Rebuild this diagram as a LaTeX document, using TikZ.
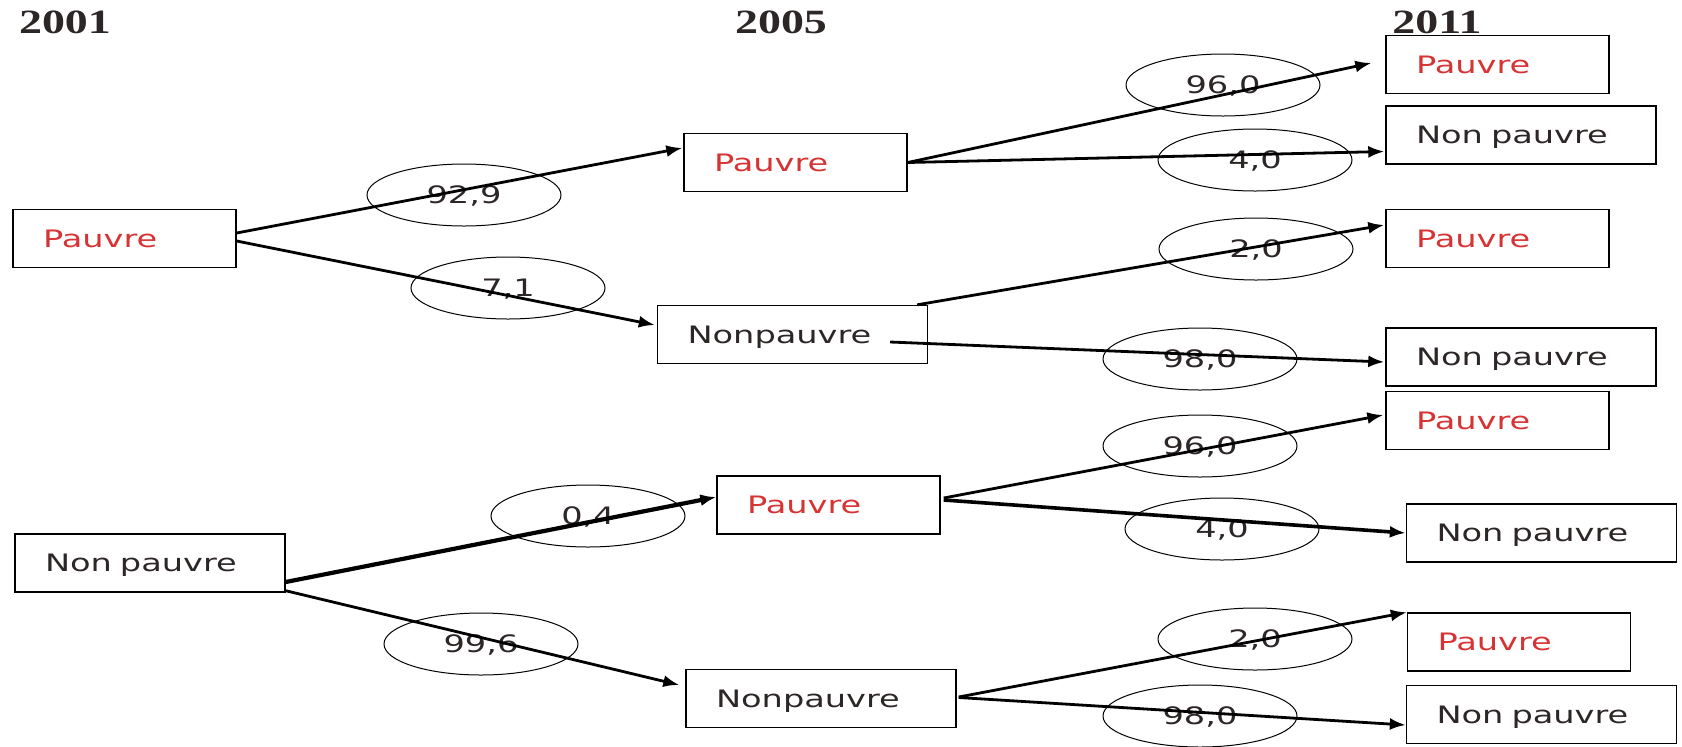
\documentclass[tikz,border=0pt]{standalone}
\usepackage{fontspec}
\setmainfont{DejaVu Sans}[FakeStretch=1.4]
\newfontfamily\yearfont{Liberation Serif}[FakeStretch=1.35]
\usetikzlibrary{shapes.geometric,arrows.meta,calc}
\definecolor{pauvrered}{RGB}{214,52,52}
\definecolor{inkgray}{RGB}{45,38,38}

\begin{document}
\begin{tikzpicture}
		[x=0.5pt,y=-0.5pt,
		etat/.style={draw,line width=0.7pt,text width=#1,inner xsep=15pt,inner ysep=0pt,
			minimum height=29pt,align=left,text height=8.75pt,text depth=0pt,
			font=\fontsize{12}{14}\selectfont},
		pauvre/.style={etat=81.5pt,text=pauvrered},
		nonpauvre/.style={etat=105pt,text=inkgray},
		taux/.style={ellipse,draw,line width=0.5pt,minimum width=97pt,minimum height=31pt,
			inner sep=0pt,text=inkgray,text height=8.75pt,text depth=0pt,
			font=\fontsize{12}{14}\selectfont},
		fleche/.style={-{Latex[length=8pt,width=6pt]},line width=1.4pt},
		annee/.style={font=\yearfont\bfseries\fontsize{17}{20}\selectfont,text=inkgray}]
		\useasboundingbox (0,0) rectangle (1682,746);
		% years
		\foreach \an/\x in {2001/65,2005/781,2011/1437}
		{
			\node[annee] (y\an) at (\x,22) {\an};
		}
		% 2001
		\node[pauvre] (a1) at (124.5,238.5) {Pauvre};
		\node[nonpauvre] (a2) at (150,563) {Non pauvre};
		% 2005
		\node[pauvre] (b1) at (795.5,162.5) {Pauvre};
		\node[nonpauvre] (b2) at (792.5,334.5) {Nonpauvre};
		\node[pauvre] (b3) at (828.5,505) {Pauvre};
		\node[nonpauvre] (b4) at (821,698.5) {Nonpauvre};
		% 2011
		\node[pauvre] (c1) at (1497.5,64.5) {Pauvre};
		\node[nonpauvre] (c2) at (1521,135) {Non pauvre};
		\node[pauvre] (c3) at (1497.5,238.5) {Pauvre};
		\node[nonpauvre] (c4) at (1521,357) {Non pauvre};
		\node[pauvre] (c5) at (1497.5,420.5) {Pauvre};
		\node[nonpauvre] (c6) at (1541.5,533) {Non pauvre};
		\node[pauvre] (c7) at (1519,642) {Pauvre};
		\node[nonpauvre] (c8) at (1541.5,714.5) {Non pauvre};
		% rates
		\node[taux] (t1) at (464,195) {92,9};
		\node[taux] (t2) at (508,288) {7,1};
		\node[taux] (t3) at (1223,85) {96,0};
		\node[taux] (t4) at (1255,160) {4,0};
		\node[taux] (t5) at (1256,249) {2,0};
		\node[taux] (t6) at (1200,359) {98,0};
		\node[taux] (t7) at (588,516) {0,4};
		\node[taux] (t8) at (481,644) {99,6};
		\node[taux] (t9) at (1200,446) {96,0};
		\node[taux] (t10) at (1222,529) {4,0};
		\node[taux] (t11) at (1255,639) {2,0};
		\node[taux] (t12) at (1200,716) {98,0};
		% transitions
		\draw[fleche] ($(a1.east)+(0,-5.5)$) -- ($(b1.west)+(-1,-14.5)$);
		\draw[fleche] ($(a1.east)+(0,2.5)$) -- ($(b2.west)+(-2,-9.5)$);
		\draw[fleche] (b1.east) -- ($(c1.west)+(-14,-1.5)$);
		\draw[fleche] (b1.east) -- ($(c2.west)+(-1,16.5)$);
		\draw[fleche] ($(b2.north east)+(-11,0)$) -- ($(c3.west)+(-1,-13.5)$);
		\draw[fleche] ($(b2.east)+(-38,7.5)$) -- ($(c4.west)+(-1,5)$);
		\draw[fleche,line width=2.1pt] ($(a2.east)+(0,19)$) -- ($(b3.west)+(0,-8)$);
		\draw[fleche] ($(a2.south east)+(0,-2)$) -- ($(b4.west)+(-6,-13.5)$);
		\draw[fleche] ($(b3.east)+(3,-7)$) -- ($(c5.west)+(-2,-5.5)$);
		\draw[fleche,line width=1.8pt] ($(b3.east)+(3,-5)$) -- (c6.west);
		\draw[fleche] ($(b4.east)+(2,-1.5)$) -- (c7.north west);
		\draw[fleche] ($(b4.east)+(2,-1)$) -- ($(c8.west)+(0,10.5)$);
	\end{tikzpicture}
\end{document}
